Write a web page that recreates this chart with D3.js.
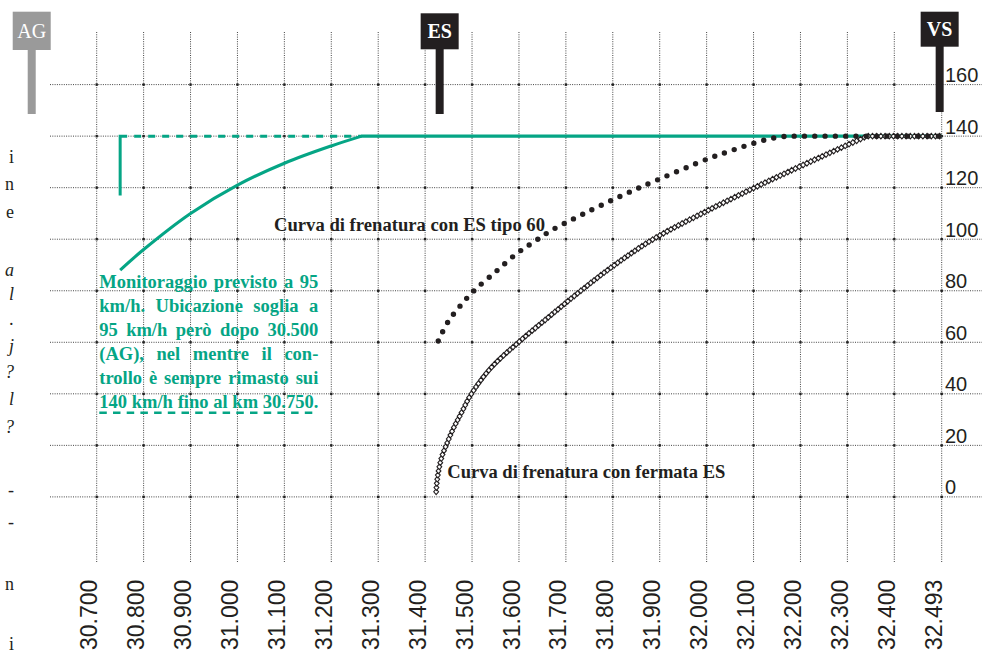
<!DOCTYPE html>
<html>
<head>
<meta charset="utf-8">
<script src="https://cdn.jsdelivr.net/npm/d3@7"></script>
<style>
  body { margin: 0; background: #fff; }
  svg { display: block; }
</style>
</head>
<body>
<svg id="chart" width="982" height="657"></svg>
<script>
// ---- data -------------------------------------------------------------
const kmTicks = [30.7, 30.8, 30.9, 31.0, 31.1, 31.2, 31.3, 31.4, 31.5, 31.6, 31.7, 31.8, 31.9, 32.0, 32.1, 32.2, 32.3, 32.4, 32.493];
const kmTickLabels = ["30.700", "30.800", "30.900", "31.000", "31.100", "31.200", "31.300", "31.400", "31.500", "31.600", "31.700", "31.800", "31.900", "32.000", "32.100", "32.200", "32.300", "32.400", "32.493"];
const speedTicks = [0, 20, 40, 60, 80, 100, 120, 140, 160];

// line speed held after each braking curve
const lineSpeed = 140;
const lineEndKm = 32.493;

// control actually applied (green): braking towards the threshold, then 140 km/h
const monitorKm    = [30.750, 30.800, 30.900, 31.000, 31.100, 31.200, 31.265];
const monitorSpeed = [88, 96, 110, 121, 129.5, 136.2, 140];
const monitorStartKm = 30.750;
const monitorStepBottom = 117;

// braking curve with ES type 60 (dotted), rising part
const es60Km    = [31.428, 31.449, 31.477, 31.504, 31.550, 31.595, 31.632, 31.670, 31.733, 31.814, 31.895, 32.000, 32.043, 32.086, 32.130, 32.170];
const es60Speed = [60.5, 68, 74.6, 80, 87.3, 94.4, 99, 103.5, 109.4, 116.5, 123, 131, 133.8, 136.4, 138.8, 140];

// braking curve with stop at ES (diamonds), rising part
const stopKm    = [31.4235, 31.425, 31.429, 31.436, 31.446, 31.460, 31.477, 31.497, 31.539, 31.599, 31.660, 31.725, 31.800, 31.886, 31.990, 32.102, 32.220, 32.342];
const stopSpeed = [2, 5.5, 10.5, 15.8, 20.5, 26.5, 32.5, 39.5, 49.8, 60, 69.3, 79, 89.5, 100, 110, 120, 130, 140];

// trackside signals
const signalNames = ["AG", "ES", "VS"];
const signalKm = [30.5615, 31.431, 32.489];

const noteLines = [
  "Monitoraggio previsto a 95",
  "km/h. Ubicazione soglia a",
  "95 km/h però dopo 30.500",
  "(AG), nel mentre il con-",
  "trollo è sempre rimasto sui",
  "140 km/h fino al km 30.750."
];
const es60Label = "Curva di frenatura con ES tipo 60";
const stopLabel = "Curva di frenatura con fermata ES";

// line endings of the neighbouring text column, cut by the page edge
const marginGlyphs = ["i", "n", "e", "a", "l", ".", "j", "?", "l", "?", "-", "-", "n", "i"];
const marginY = [163, 190, 218, 276, 300, 325, 352, 378, 405, 433, 496, 528, 590, 650];
const marginItalic = [false, false, false, true, true, true, true, true, true, true, false, false, false, false];

// ---- layout ------------------------------------------------------------
const svg = d3.select("#chart");
const INK = "#231f20";
const GREEN = "#05a585";
const SERIF = "'Liberation Serif', 'DejaVu Serif', serif";
const SANS = "'Liberation Sans', Arial, sans-serif";

const x = d3.scaleLinear()
  .domain([30.7, 32.4, 32.493])
  .range([96.7, 894.3, 941.7]);
const y = d3.scaleLinear()
  .domain([0, 160])
  .range([496.9, 84.6]);

// ---- grid ------------------------------------------------------------------
const grid = svg.append("g");
grid.selectAll("line.v").data(kmTicks).join("line")
  .attr("x1", d => x(d)).attr("x2", d => x(d))
  .attr("y1", 32).attr("y2", 563)
  .attr("stroke", "#444").attr("stroke-width", 1)
  .attr("stroke-dasharray", "1 1.3");
grid.selectAll("line.h").data(speedTicks).join("line")
  .attr("x1", 50).attr("x2", 982)
  .attr("y1", d => y(d)).attr("y2", d => y(d))
  .attr("stroke", "#444").attr("stroke-width", 1)
  .attr("stroke-dasharray", "1 1.3");
const cross = d3.cross(kmTicks, speedTicks);
grid.selectAll("rect").data(cross).join("rect")
  .attr("x", d => x(d[0]) - 1.2).attr("y", d => y(d[1]) - 1.2)
  .attr("width", 2.4).attr("height", 2.4).attr("fill", "#222");

// ---- axes labels -----------------------------------------------------------
const yAxis = d3.axisRight(y).tickValues(speedTicks).tickSize(0).tickPadding(0);
const yG = svg.append("g").attr("transform", "translate(945,0)").call(yAxis);
yG.select(".domain").remove();
yG.selectAll("text")
  .attr("dy", "-3px").attr("x", 0)
  .style("font-family", SANS).style("font-size", "20px")
  .attr("fill", INK).attr("text-anchor", "start")
  .attr("dominant-baseline", "auto");

const xAxis = d3.axisBottom(x).tickValues(kmTicks)
  .tickFormat((d, i) => kmTickLabels[i]).tickSize(0);
const xG = svg.append("g").call(xAxis);
xG.select(".domain").remove();
xG.selectAll(".tick").attr("transform", d => `translate(${x(d) + 0.6},650)`);
xG.selectAll("text")
  .attr("y", 0).attr("x", 0).attr("dy", 0)
  .attr("transform", "rotate(-90)")
  .attr("text-anchor", "start")
  .style("font-family", SANS).style("font-size", "23px")
  .attr("fill", INK);

// ---- curves ------------------------------------------------------------------
const lineGen = d3.line().x(d => x(d[0])).y(d => y(d[1])).curve(d3.curveCatmullRom.alpha(0.5));
// rising braking branch followed by the flat line-speed run
const brakingPath = (kms, speeds) =>
  lineGen(d3.zip(kms, speeds)) + `L${x(lineEndKm)},${y(lineSpeed)}`;

// green control line
const green = svg.append("g");
green.append("path")
  .attr("d", `M${x(monitorStartKm)},${y(monitorStepBottom)}V${y(lineSpeed)}h7`)
  .attr("fill", "none").attr("stroke", GREEN).attr("stroke-width", 3);
green.append("line")
  .attr("x1", x(monitorStartKm) + 7).attr("x2", x(monitorKm[monitorKm.length - 1]))
  .attr("y1", y(lineSpeed)).attr("y2", y(lineSpeed))
  .attr("stroke", GREEN).attr("stroke-width", 3).attr("stroke-dasharray", "7 7")
  .attr("stroke-dashoffset", -7);
green.append("path")
  .attr("d", brakingPath(monitorKm, monitorSpeed))
  .attr("fill", "none").attr("stroke", GREEN).attr("stroke-width", 3.1);

// braking curve with stop at ES: chain of hollow diamonds
const stopPath = svg.append("path")
  .attr("d", brakingPath(stopKm, stopSpeed))
  .attr("fill", "none").attr("stroke", "none");
const stopNode = stopPath.node();
const stopLen = stopNode.getTotalLength();
const diamondPts = d3.range(0, stopLen + 0.1, 4.2).map(l => stopNode.getPointAtLength(l));
svg.append("g").selectAll("path").data(diamondPts).join("path")
  .attr("d", d => `M${d.x},${d.y - 2.8}L${d.x + 2.4},${d.y}L${d.x},${d.y + 2.8}L${d.x - 2.4},${d.y}Z`)
  .attr("fill", "#fff").attr("stroke", INK).attr("stroke-width", 1.1);

// braking curve with ES type 60: round dots
svg.append("path")
  .attr("d", brakingPath(es60Km, es60Speed))
  .attr("fill", "none").attr("stroke", INK)
  .attr("stroke-width", 5.4).attr("stroke-linecap", "round")
  .attr("stroke-dasharray", "0 10.3");

// ---- curve labels ----------------------------------------------------------
svg.append("text").attr("x", 274).attr("y", 230.7)
  .attr("textLength", 271).attr("lengthAdjust", "spacingAndGlyphs")
  .style("font-family", SERIF).style("font-size", "18px").style("font-weight", "bold")
  .attr("fill", INK).text(es60Label);
svg.append("text").attr("x", 447.3).attr("y", 478.3)
  .attr("textLength", 278).attr("lengthAdjust", "spacingAndGlyphs")
  .style("font-family", SERIF).style("font-size", "18px").style("font-weight", "bold")
  .attr("fill", INK).text(stopLabel);

// ---- green note, justified ---------------------------------------------------
const noteLeft = 99.3, noteRight = 318.3, noteTop = 287.5, noteStep = 24.05;
const note = svg.append("g")
  .style("font-family", SERIF).style("font-size", "18.5px").style("font-weight", "bold")
  .attr("fill", GREEN);
noteLines.forEach((line, i) => {
  const words = line.split(" ");
  const nodes = words.map(w => note.append("text").attr("y", noteTop + i * noteStep).text(w));
  const widths = nodes.map(n => n.node().getComputedTextLength());
  const total = d3.sum(widths);
  const avail = noteRight - noteLeft;
  const minGap = 4;
  let scale = 1;
  if (total + minGap * (words.length - 1) > avail) {
    scale = (avail - minGap * (words.length - 1)) / total;
  }
  const gap = words.length > 1 ? (avail - total * scale) / (words.length - 1) : 0;
  let cx = noteLeft;
  nodes.forEach((n, j) => {
    n.attr("x", cx);
    if (scale < 1) n.attr("textLength", widths[j] * scale).attr("lengthAdjust", "spacingAndGlyphs");
    cx += widths[j] * scale + gap;
  });
});
note.append("line")
  .attr("x1", noteLeft).attr("x2", noteRight)
  .attr("y1", 412.7).attr("y2", 412.7)
  .attr("stroke", GREEN).attr("stroke-width", 2.6)
  .attr("stroke-dasharray", "7.5 6.2");

// ---- signal boards ---------------------------------------------------------
const signalColor = ["#9a9a9a", INK, INK];
const boardTop = [11.7, 13.3, 11.7];
const boardH = [38.3, 36, 35];
const stemBottom = [114, 114, 112];
const boards = svg.append("g").selectAll("g").data(signalNames).join("g");
boards.append("rect")
  .attr("x", (d, i) => x(signalKm[i]) - 4).attr("width", 8)
  .attr("y", (d, i) => boardTop[i] + boardH[i] - 1)
  .attr("height", (d, i) => stemBottom[i] - boardTop[i] - boardH[i] + 1)
  .attr("fill", (d, i) => signalColor[i]);
boards.append("rect")
  .attr("x", (d, i) => x(signalKm[i]) - 19).attr("width", 38)
  .attr("y", (d, i) => boardTop[i]).attr("height", (d, i) => boardH[i])
  .attr("fill", (d, i) => signalColor[i]);
boards.append("text")
  .attr("x", (d, i) => x(signalKm[i]))
  .attr("y", (d, i) => boardTop[i] + boardH[i] / 2 + 7)
  .attr("text-anchor", "middle")
  .style("font-family", SERIF).style("font-size", "20px")
  .style("font-weight", (d, i) => i === 0 ? "normal" : "bold")
  .attr("fill", "#fff").text(d => d);

// ---- cut text of the adjoining column --------------------------------------
svg.append("g").selectAll("text").data(marginGlyphs).join("text")
  .attr("x", 14).attr("y", (d, i) => marginY[i])
  .attr("text-anchor", "end")
  .style("font-family", SERIF).style("font-size", "18px")
  .style("font-style", (d, i) => marginItalic[i] ? "italic" : "normal")
  .attr("fill", INK).text(d => d);
</script>
</body>
</html>
